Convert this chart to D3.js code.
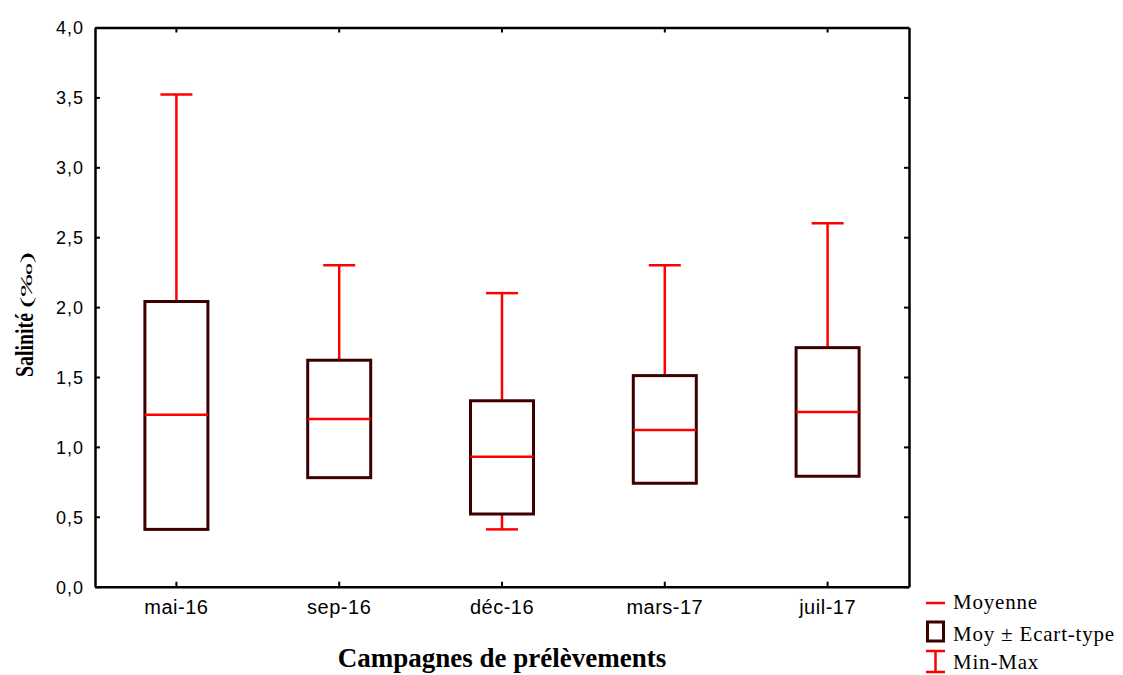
<!DOCTYPE html>
<html><head><meta charset="utf-8">
<script src="https://cdn.jsdelivr.net/npm/d3@7"></script>
<style>body{margin:0;background:#fff}svg{display:block}</style>
</head><body>
<script>
const categories = ["mai-16","sep-16","déc-16","mars-17","juil-17"];
const means = [1.23, 1.20, 0.93, 1.12, 1.25];
const sdLow = [0.41, 0.78, 0.52, 0.74, 0.79];
const sdHigh = [2.04, 1.62, 1.33, 1.51, 1.71];
const mins = [0.41, 0.78, 0.41, 0.74, 0.79];
const maxs = [3.52, 2.30, 2.10, 2.30, 2.60];
const yTicks = [0,0.5,1,1.5,2,2.5,3,3.5,4];

const W=1123,H=675;
const m={l:95,r:909,t:27.5,b:586.7};
const svg=d3.select("body").append("svg").attr("width",W).attr("height",H);
const x=d3.scaleBand().domain(categories).range([m.l,m.r]).padding(0);
const y=d3.scaleLinear().domain([0,4]).range([m.b,m.t]);
const fmt=d=>d3.format(".1f")(d).replace(".",",");
const red="#ff0000", box="#3d0000";
const sans="Arial, 'Liberation Sans', sans-serif";
const serif="'Liberation Serif','Times New Roman',serif";

// axes
const gL=svg.append("g").attr("transform",`translate(${m.l},0)`)
  .call(d3.axisLeft(y).tickValues(yTicks).tickFormat(fmt).tickSizeInner(-5).tickSizeOuter(0).tickPadding(11));
const gR=svg.append("g").attr("transform",`translate(${m.r},0)`)
  .call(d3.axisRight(y).tickValues(yTicks).tickFormat("").tickSizeInner(-5).tickSizeOuter(0));
const gB=svg.append("g").attr("transform",`translate(0,${m.b})`)
  .call(d3.axisBottom(x).tickSizeInner(-5).tickSizeOuter(0).tickPadding(13));
const gT=svg.append("g").attr("transform",`translate(0,${m.t})`)
  .call(d3.axisTop(x).tickFormat("").tickSizeInner(-5).tickSizeOuter(0));
[gL,gR,gB,gT].forEach(g=>{
  g.attr("font-size",null).attr("font-family",null);
  g.select(".domain").attr("stroke","#000").attr("stroke-width",2.5);
  g.selectAll(".tick line").attr("stroke","#000").attr("stroke-width",2);
  g.selectAll("text").style("font-family",sans).attr("fill","#000");
});
gL.selectAll(".tick text").style("font-size","18px").style("letter-spacing","1px").attr("dy","0.35em");
gB.selectAll(".tick text").style("font-size","20px").style("letter-spacing","0.5px").attr("dy","0.71em");

const data=categories.map((c,i)=>({c,mean:means[i],lo:sdLow[i],hi:sdHigh[i],mn:mins[i],mx:maxs[i]}));
const bw=63, cw=32;
const g=svg.append("g");
data.forEach(d=>{
  const cx=x(d.c)+x.bandwidth()/2;
  g.append("line").attr("x1",cx).attr("x2",cx).attr("y1",y(d.mx)).attr("y2",y(d.hi)).attr("stroke",red).attr("stroke-width",2.5);
  g.append("line").attr("x1",cx-cw/2).attr("x2",cx+cw/2).attr("y1",y(d.mx)).attr("y2",y(d.mx)).attr("stroke",red).attr("stroke-width",2.5);
  if(d.mn<d.lo-0.005){
    g.append("line").attr("x1",cx).attr("x2",cx).attr("y1",y(d.lo)).attr("y2",y(d.mn)).attr("stroke",red).attr("stroke-width",2.5);
    g.append("line").attr("x1",cx-cw/2).attr("x2",cx+cw/2).attr("y1",y(d.mn)).attr("y2",y(d.mn)).attr("stroke",red).attr("stroke-width",2.5);
  }
  g.append("rect").attr("x",cx-bw/2).attr("width",bw).attr("y",y(d.hi)).attr("height",y(d.lo)-y(d.hi))
    .attr("fill","#fff").attr("stroke",box).attr("stroke-width",3);
  g.append("line").attr("x1",cx-bw/2).attr("x2",cx+bw/2).attr("y1",y(d.mean)).attr("y2",y(d.mean)).attr("stroke",red).attr("stroke-width",2.5);
});

// titles
svg.append("text").attr("x",(m.l+m.r)/2).attr("y",667).attr("text-anchor","middle")
  .style("font-family",serif).attr("font-weight","bold").style("font-size","27px").text("Campagnes de prélèvements");
svg.append("text").attr("transform","translate(33,345) rotate(-90)").attr("text-anchor","middle")
  .style("font-family",serif).attr("font-weight","bold").style("font-size","26px")
  .attr("textLength",64).attr("lengthAdjust","spacingAndGlyphs").text("Salinité");
svg.append("text").attr("transform","translate(32,280) rotate(-90)").attr("text-anchor","middle")
  .style("font-family",serif).style("font-size","17px")
  .attr("textLength",56).attr("lengthAdjust","spacingAndGlyphs").text("(‰)");

// legend
const tx=953;
const legendLabels=["Moyenne","Moy ± Ecart-type","Min-Max"];
const legendY=[609,641,669];
svg.append("line").attr("x1",926).attr("x2",945).attr("y1",603).attr("y2",603).attr("stroke",red).attr("stroke-width",2.5);
svg.append("rect").attr("x",927.5).attr("y",622).attr("width",16).attr("height",19).attr("fill","#fff").attr("stroke",box).attr("stroke-width",3);
svg.append("line").attr("x1",935.5).attr("x2",935.5).attr("y1",651).attr("y2",672).attr("stroke",red).attr("stroke-width",2.5);
svg.append("line").attr("x1",926).attr("x2",945).attr("y1",651).attr("y2",651).attr("stroke",red).attr("stroke-width",2.5);
svg.append("line").attr("x1",926).attr("x2",945).attr("y1",672).attr("y2",672).attr("stroke",red).attr("stroke-width",2.5);
legendLabels.forEach((t,i)=>svg.append("text").attr("x",tx).attr("y",legendY[i]).style("font-family",serif).style("font-size","21px").style("letter-spacing","0.8px").text(t));
</script>
</body></html>
